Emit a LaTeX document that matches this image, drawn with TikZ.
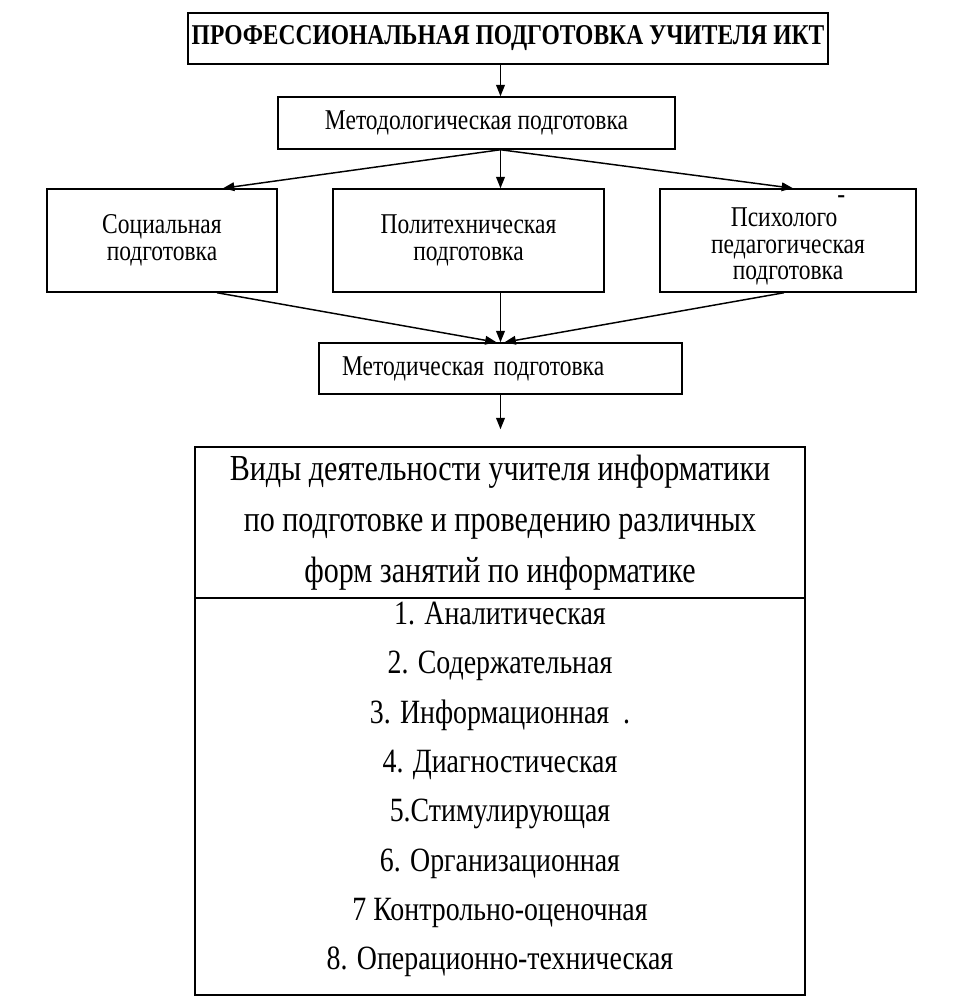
\documentclass[tikz,border=0pt]{standalone}
\usepackage{fontspec}
\setmainfont{Liberation Serif}[FakeStretch=0.82]
\usetikzlibrary{arrows.meta}

\tikzset{every picture/.style={line width=1.1pt}}
\tikzset{blk/.style={draw, rectangle, inner sep=0pt, align=center},
  smallfont/.style={font=\fontsize{21.5}{20}\selectfont},
  bigfont/.style={font=\fontsize{25.5}{37}\selectfont}}

\begin{document}
\begin{tikzpicture}[x=0.75pt,y=0.75pt,yscale=-1,xscale=1,>={Triangle[length=8.5pt,width=6.5pt]}]
\useasboundingbox (0,0) rectangle (975,1003);

% Text Node
\node [blk, minimum width=480pt, minimum height=38.25pt, font=\bfseries\fontsize{21.5}{20}\selectfont] (prof) at (508,38.5) {ПРОФЕССИОНАЛЬНАЯ ПОДГОТОВКА УЧИТЕЛЯ ИКТ};
% Text Node
\node [blk, smallfont, minimum width=297.75pt, minimum height=39pt] (metodol) at (476.5,123) {Методологическая подготовка};
% Text Node
\node [blk, smallfont, minimum width=172.5pt, minimum height=77.25pt] (soc) at (162,240.5) {Социальная\\подготовка};
% Text Node
\node [blk, smallfont, minimum width=203.25pt, minimum height=77.25pt] (poly) at (468.5,240.5) {Политехническая\\подготовка};
% Text Node
\node [blk, smallfont, minimum width=192pt, minimum height=77.25pt] (psy) at (788,240.5) {Психолого\raisebox{0.8em}{-}\\педагогическая\\подготовка};
% Text Node
\node [blk, smallfont, align=left, text width=237.75pt, inner xsep=17.25pt, minimum height=38.25pt] (metod) at (500.5,368.5) {Методическая подготовка};
% Text Node
\node [blk, font=\fontsize{27.5}{38.25}\selectfont, minimum width=457.5pt, minimum height=113.25pt] (vidy) at (500,522.5) {Виды деятельности учителя информатики\\по подготовке и проведению различных\\форм занятий по информатике};
% Text Node
\node [blk, bigfont, text depth=16pt, minimum width=457.5pt, minimum height=297.75pt] (list) at (500,796.5) {1. Аналитическая\\2. Содержательная\\3. Информационная\ \ .\\4. Диагностическая\\5.Стимулирующая\\6. Организационная\\7 Контрольно-оценочная\\8. Операционно-техническая};

% Connection
\draw [->] (prof.south -| metod.north) -- (metodol.north -| metod.north);
% Connection
\draw [->] (metodol.south -| metod.north) -- ([xshift=45.75pt]soc.north);
% Connection
\draw [->] (metodol.south -| metod.north) -- (poly.north -| metod.north);
% Connection
\draw [->] (metodol.south -| metod.north) -- ([xshift=3.75pt]psy.north);
% Connection
\draw [->] ([xshift=41.25pt]soc.south) -- ([xshift=-3pt]metod.north);
% Connection
\draw [->] (poly.south -| metod.north) -- (metod.north);
% Connection
\draw [->] ([xshift=-3pt]psy.south) -- ([xshift=3pt]metod.north);
% Connection
\draw [->, shorten >=12.75pt] (metod.south) -- (metod.south |- vidy.north);

\end{tikzpicture}
\end{document}
